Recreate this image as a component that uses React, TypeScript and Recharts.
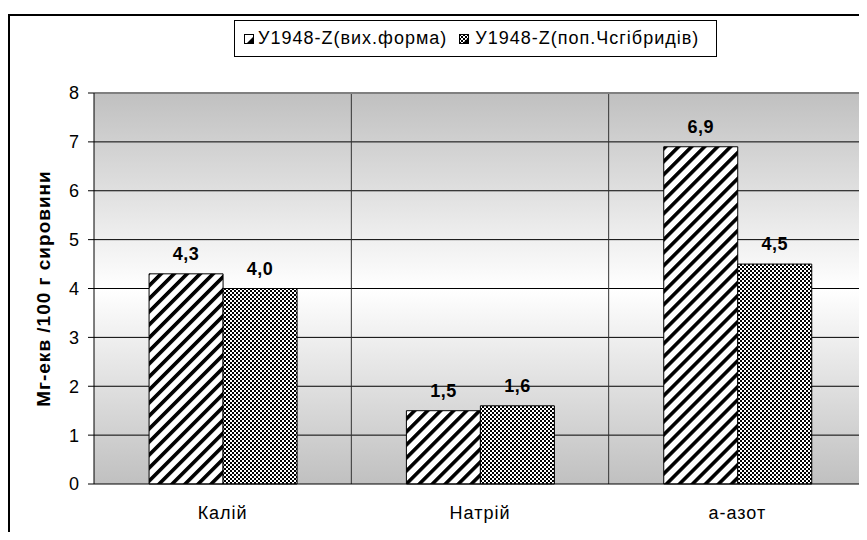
import React from 'react';
import { BarChart, Bar, XAxis, YAxis, CartesianGrid, Legend, LabelList, ReferenceLine, Label } from 'recharts';

const categories = ['Калій', 'Натрій', 'а-азот'];
const wildForm = [4.3, 1.5, 6.9];
const hybrids = [4.0, 1.6, 4.5];
const yTicks = [0, 1, 2, 3, 4, 5, 6, 7, 8];
const seriesNames = ['У1948-Z(вих.форма)', 'У1948-Z(поп.Чсгібридів)'];

const data = categories.map((name, i) => ({ name, wild: wildForm[i], hybrid: hybrids[i] }));

const FONT = '"Liberation Sans", Arial, sans-serif';

const fmt = (v: any) => Number(v).toFixed(1).replace('.', ',');

const tickStyle = { fontSize: 18, fill: '#000', fontFamily: FONT, letterSpacing: 1 };
const valueStyle = { fontSize: 18, fontWeight: 'bold', fill: '#000', fontFamily: FONT, letterSpacing: 0.5 };

const LegendBox = () => (
  <div
    style={{
      border: '1px solid #000',
      height: 37,
      boxSizing: 'border-box',
      display: 'flex',
      alignItems: 'center',
      paddingLeft: 9,
      fontFamily: FONT,
      fontSize: 18,
      letterSpacing: 1,
      color: '#000',
      background: '#fff',
      whiteSpace: 'nowrap',
    }}
  >
    <svg width={10} height={10} style={{ marginRight: 4 }}>
      <rect x={0.5} y={0.5} width={9} height={9} fill="#fff" stroke="#000" />
      <path d="M9.5 2.5 L9.5 9.5 L2.5 9.5 Z" fill="#000" />
    </svg>
    <span style={{ marginRight: 12 }}>{seriesNames[0]}</span>
    <svg width={10} height={10} style={{ marginRight: 6 }}>
      <rect x={0.5} y={0.5} width={9} height={9} fill="url(#checks)" stroke="#000" />
      <path d="M9.5 3.5 L9.5 9.5 L3.5 9.5 Z" fill="#000" />
    </svg>
    <span>{seriesNames[1]}</span>
  </div>
);

export default function App() {
  return (
    <div style={{ position: 'relative', width: 859, height: 524, overflow: 'hidden' }}>
      <div
        style={{
          position: 'absolute',
          left: 0,
          top: 6,
          width: 900,
          height: 600,
          borderTop: '2px solid #000',
          borderLeft: '2px solid #000',
          boxSizing: 'border-box',
        }}
      />
      <BarChart
        width={859}
        height={532}
        data={data}
        margin={{ top: 85, right: 0, left: 0, bottom: 0 }}
        barCategoryGap="21.4%"
        barGap={0}
        style={{ position: 'absolute', left: 0, top: 0 }}
      >
        <defs>
          <linearGradient id="bgGrad" x1="0" y1="0" x2="0" y2="1">
            <stop offset="0%" stopColor="#c0c0c0" />
            <stop offset="50%" stopColor="#ffffff" />
            <stop offset="100%" stopColor="#c0c0c0" />
          </linearGradient>
          <pattern id="stripes" patternUnits="userSpaceOnUse" width={9.2} height={9.2} patternTransform="rotate(45)">
            <rect width={9.2} height={9.2} fill="#fff" />
            <rect width={3.6} height={9.2} fill="#000" />
          </pattern>
          <pattern id="checks" patternUnits="userSpaceOnUse" width={4} height={4}>
            <rect width={4} height={4} fill="#fff" />
            <rect x={0} y={0} width={2} height={2} fill="#000" />
            <rect x={2} y={2} width={2} height={2} fill="#000" />
          </pattern>
        </defs>
        <CartesianGrid
          horizontal
          vertical={false}
          horizontalValues={[1, 2, 3, 4, 5, 6, 7]}
          stroke="#000"
          fill="url(#bgGrad)"
          fillOpacity={1}
        />
        <CartesianGrid
          horizontal={false}
          vertical
          stroke="#333"
          verticalCoordinatesGenerator={({ offset }: any) =>
            categories.slice(1).map((_, i) => offset.left + (offset.width * (i + 1)) / categories.length)
          }
        />
        <ReferenceLine y={8} stroke="#808080" strokeWidth={2} />
        <XAxis
          dataKey="name"
          height={56}
          axisLine={{ stroke: '#000' }}
          tickLine={false}
          tickSize={0}
          tickMargin={22}
          tick={tickStyle}
        />
        <YAxis
          domain={[0, 8]}
          ticks={yTicks}
          width={86}
          interval={0}
          axisLine={{ stroke: '#000' }}
          tickLine={{ stroke: '#000' }}
          tickSize={6}
          tickMargin={8}
          tick={tickStyle}
        >
          <Label
            value="Мг-екв /100 г сировини"
            angle={-90}
            position="center"
            dx={-8}
            style={{ fontSize: 19, fontWeight: 'bold', fill: '#000', fontFamily: FONT, letterSpacing: 1 }}
          />
        </YAxis>
        <YAxis
          yAxisId="right"
          orientation="right"
          domain={[0, 8]}
          width={1}
          tick={false}
          tickLine={false}
          axisLine={{ stroke: '#808080', strokeWidth: 2 }}
        />
        <Legend
          layout="horizontal"
          verticalAlign="middle"
          align="center"
          content={() => <LegendBox />}
          wrapperStyle={{ top: 12, left: 226, width: 483, height: 37 }}
        />
        <Bar dataKey="wild" name={seriesNames[0]} fill="url(#stripes)" stroke="#000" strokeWidth={1} isAnimationActive={false}>
          <LabelList dataKey="wild" position="top" offset={14} formatter={fmt} style={valueStyle} />
        </Bar>
        <Bar dataKey="hybrid" name={seriesNames[1]} fill="url(#checks)" stroke="#000" strokeWidth={1} isAnimationActive={false}>
          <LabelList dataKey="hybrid" position="top" offset={14} formatter={fmt} style={valueStyle} />
        </Bar>
      </BarChart>
    </div>
  );
}
